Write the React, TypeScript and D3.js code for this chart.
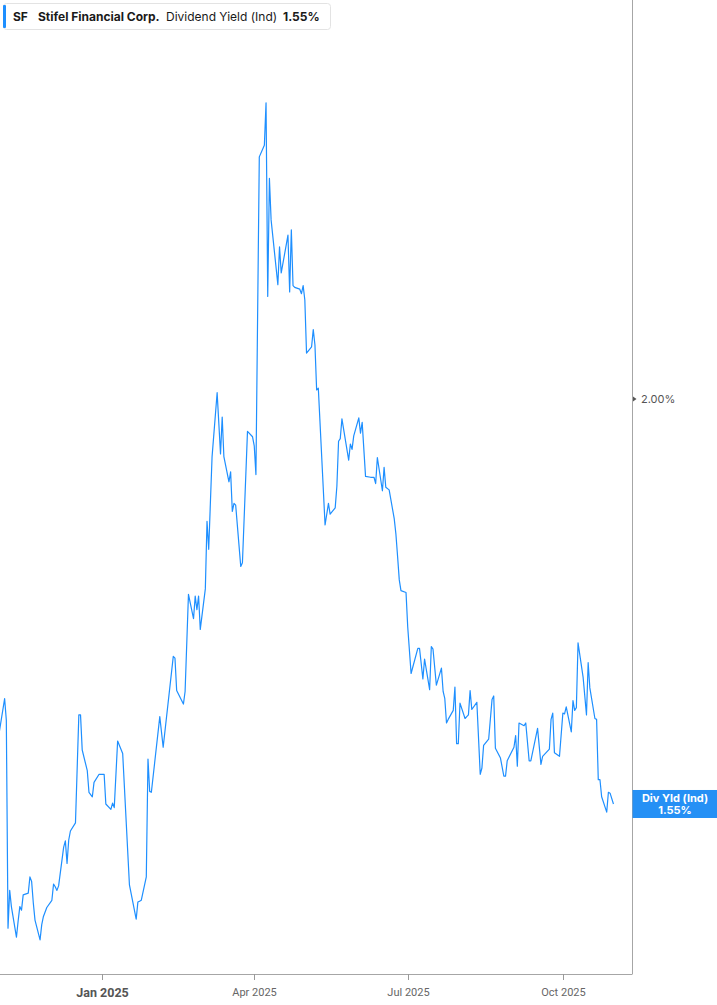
import React from "react";
import * as d3 from "d3";

const dates: string[] = [
  "2024-10-31","2024-11-01","2024-11-04","2024-11-05","2024-11-06","2024-11-07","2024-11-08","2024-11-11","2024-11-12","2024-11-13",
  "2024-11-14","2024-11-15","2024-11-18","2024-11-19","2024-11-20","2024-11-21","2024-11-22","2024-11-25","2024-11-26","2024-11-27",
  "2024-11-29","2024-12-02","2024-12-03","2024-12-04","2024-12-05","2024-12-06","2024-12-09","2024-12-10","2024-12-11","2024-12-12",
  "2024-12-13","2024-12-16","2024-12-18","2024-12-19","2024-12-20","2024-12-23","2024-12-24","2024-12-26","2024-12-27","2024-12-30",
  "2024-12-31","2025-01-02","2025-01-03","2025-01-06","2025-01-07","2025-01-08","2025-01-10","2025-01-13","2025-01-17","2025-01-21",
  "2025-01-22","2025-01-23","2025-01-24","2025-01-27","2025-01-28","2025-01-29","2025-01-30","2025-02-04","2025-02-05","2025-02-06",
  "2025-02-12","2025-02-13","2025-02-14","2025-02-18","2025-02-19","2025-02-21","2025-02-24","2025-02-25","2025-02-26","2025-02-27",
  "2025-02-28","2025-03-03","2025-03-04","2025-03-05","2025-03-07","2025-03-10","2025-03-12","2025-03-13","2025-03-14","2025-03-17",
  "2025-03-18","2025-03-19","2025-03-20","2025-03-21","2025-03-24","2025-03-25","2025-03-28","2025-03-31","2025-04-01","2025-04-02",
  "2025-04-04","2025-04-07","2025-04-08","2025-04-09","2025-04-10","2025-04-11","2025-04-15","2025-04-16","2025-04-17","2025-04-21",
  "2025-04-22","2025-04-23","2025-04-24","2025-04-25","2025-04-28","2025-04-29","2025-04-30","2025-05-01","2025-05-02","2025-05-05",
  "2025-05-06","2025-05-07","2025-05-08","2025-05-09","2025-05-13","2025-05-15","2025-05-16","2025-05-19","2025-05-20","2025-05-21",
  "2025-05-22","2025-05-23","2025-05-27","2025-05-28","2025-05-29","2025-05-30","2025-06-02","2025-06-03","2025-06-04","2025-06-06",
  "2025-06-09","2025-06-10","2025-06-11","2025-06-12","2025-06-13","2025-06-16","2025-06-17","2025-06-18","2025-06-20","2025-06-23",
  "2025-06-24","2025-06-25","2025-06-26","2025-06-27","2025-06-30","2025-07-01","2025-07-03","2025-07-07","2025-07-08","2025-07-10",
  "2025-07-11","2025-07-14","2025-07-15","2025-07-16","2025-07-18","2025-07-21","2025-07-22","2025-07-23","2025-07-24","2025-07-25",
  "2025-07-28","2025-07-29","2025-07-30","2025-07-31","2025-08-01","2025-08-04","2025-08-05","2025-08-06","2025-08-07","2025-08-08",
  "2025-08-11","2025-08-13","2025-08-14","2025-08-15","2025-08-18","2025-08-20","2025-08-21","2025-08-22","2025-08-25","2025-08-27",
  "2025-08-28","2025-08-29","2025-09-02","2025-09-03","2025-09-04","2025-09-05","2025-09-08","2025-09-09","2025-09-11","2025-09-12",
  "2025-09-16","2025-09-18","2025-09-19","2025-09-23","2025-09-24","2025-09-25","2025-09-26","2025-09-29","2025-10-01","2025-10-02",
  "2025-10-03","2025-10-06","2025-10-07","2025-10-08","2025-10-09","2025-10-10","2025-10-13","2025-10-15","2025-10-16","2025-10-17",
  "2025-10-20","2025-10-21","2025-10-22","2025-10-23","2025-10-24","2025-10-27","2025-10-28","2025-10-29","2025-10-31",
];

const yields: number[] = [
  1.615,1.632,1.667,1.643,1.412,1.454,1.436,1.402,1.420,1.436,
  1.432,1.449,1.451,1.469,1.464,1.440,1.421,1.399,1.416,1.425,
  1.435,1.443,1.461,1.458,1.454,1.459,1.502,1.509,1.484,1.510,
  1.520,1.529,1.649,1.649,1.610,1.587,1.563,1.558,1.574,1.583,
  1.583,1.583,1.550,1.544,1.551,1.546,1.620,1.606,1.460,1.422,
  1.441,1.442,1.443,1.469,1.600,1.564,1.563,1.647,1.630,1.613,
  1.714,1.712,1.676,1.661,1.675,1.783,1.756,1.781,1.766,1.781,
  1.744,1.789,1.864,1.833,1.936,2.007,1.939,1.980,1.936,1.908,
  1.919,1.875,1.884,1.882,1.814,1.818,1.964,1.958,1.948,1.916,
  2.269,2.282,2.329,2.114,2.245,2.199,2.127,2.169,2.140,2.182,
  2.119,2.188,2.126,2.124,2.122,2.117,2.126,2.110,2.051,2.058,
  2.077,2.060,2.010,2.012,1.860,1.884,1.872,1.879,1.903,1.953,
  1.956,1.978,1.932,1.950,1.944,1.959,1.979,1.962,1.974,1.914,
  1.913,1.913,1.913,1.906,1.935,1.898,1.924,1.902,1.899,1.867,
  1.850,1.825,1.799,1.787,1.785,1.747,1.695,1.723,1.723,1.689,
  1.711,1.677,1.725,1.722,1.682,1.701,1.675,1.667,1.640,1.644,
  1.654,1.680,1.617,1.617,1.662,1.645,1.647,1.649,1.676,1.655,
  1.663,1.583,1.590,1.615,1.622,1.666,1.670,1.612,1.601,1.581,
  1.581,1.598,1.613,1.626,1.592,1.640,1.637,1.640,1.598,1.598,
  1.634,1.594,1.603,1.611,1.644,1.651,1.607,1.603,1.651,1.650,
  1.658,1.630,1.665,1.654,1.657,1.729,1.691,1.649,1.707,1.679,
  1.645,1.644,1.577,1.577,1.558,1.541,1.563,1.562,1.550,
];

const xTickDates: string[] = ["2025-01-01", "2025-04-01", "2025-07-01", "2025-10-01"];
const xTickLabels: string[] = ["Jan 2025", "Apr 2025", "Jul 2025", "Oct 2025"];
const yTicks: number[] = [2.0];
const xDomain: string[] = ["2024-11-01T06:00", "2025-11-11T07:00"];
const yDomain: number[] = [1.3611, 2.4433];

const legendTicker = "SF";
const legendName = "Stifel Financial Corp.";
const legendMetric = "Dividend Yield (Ind)";
const lastLabelTitle = "Div Yld (Ind)";

const W = 717;
const H = 1005;
const plotRight = 632.5;
const plotBottom = 974;
const BLUE = "#1e8fff";
const FONT = "Inter, Roboto, 'Noto Sans', sans-serif";
const AXFONT = "Roboto, 'Noto Sans', sans-serif";

export default function App() {
  const parse = d3.timeParse("%Y-%m-%d");
  const parseT = d3.timeParse("%Y-%m-%dT%H:%M");
  const data = dates.map((d, i) => ({ date: parse(d) as Date, v: yields[i] }));
  const x = d3
    .scaleTime()
    .domain([parseT(xDomain[0]) as Date, parseT(xDomain[1]) as Date])
    .range([0, plotRight]);
  const y = d3.scaleLinear().domain(yDomain).range([plotBottom, 0]);
  const line = d3
    .line<{ date: Date; v: number }>()
    .x((d) => x(d.date))
    .y((d) => y(d.v));
  const last = data[data.length - 1];
  const fmt = (v: number) => v.toFixed(2) + "%";

  return (
    <svg
      width={W}
      height={H}
      style={{ position: "absolute", left: 0, top: 0, background: "#fff" }}
    >
      <defs>
        <clipPath id="plotclip">
          <rect x={0} y={0} width={plotRight} height={plotBottom} />
        </clipPath>
      </defs>
      <path
        d={line(data) || ""}
        fill="none"
        stroke={BLUE}
        strokeWidth={1.2}
        strokeLinejoin="round"
        clipPath="url(#plotclip)"
      />
      {/* axes frame */}
      <line x1={plotRight} x2={plotRight} y1={0} y2={plotBottom} stroke="#a6a6a6" strokeWidth={1} />
      <line x1={0} x2={plotRight} y1={plotBottom + 0.5} y2={plotBottom + 0.5} stroke="#a6a6a6" strokeWidth={1} />
      {xTickDates.map((d, i) => {
        const px = Math.round(x(parse(d) as Date)) + 0.5;
        return (
          <g key={d}>
            <line x1={px} x2={px} y1={plotBottom} y2={plotBottom + 6} stroke="#999" strokeWidth={1} />
            <text
              x={px}
              y={i === 0 ? 997 : 996}
              textAnchor="middle"
              fontFamily={AXFONT}
              fontSize={i === 0 ? 12.5 : 11}
              fontWeight={i === 0 ? 700 : 400}
              fill={i === 0 ? "#555" : "#666"}
            >
              {xTickLabels[i]}
            </text>
          </g>
        );
      })}
      {yTicks.map((t) => {
        const py = y(t);
        return (
          <g key={t}>
            <path d={`M${plotRight + 0.5},${py - 2.5} L${plotRight + 4},${py} L${plotRight + 0.5},${py + 2.5} Z`} fill="#555" />
            <text x={641} y={py + 4} fontFamily={FONT} fontSize={11} fill="#555">
              {fmt(t)}
            </text>
          </g>
        );
      })}
      {/* last value label */}
      <g>
        <rect x={plotRight} y={y(last.v) - 14} width={W - plotRight} height={28} fill="#2590f5" />
        <text x={675} y={y(last.v) - 2} textAnchor="middle" fontFamily={FONT} fontSize={11} fontWeight={700} fill="#fff">
          {lastLabelTitle}
        </text>
        <text x={675} y={y(last.v) + 10} textAnchor="middle" fontFamily={FONT} fontSize={11} fontWeight={700} fill="#fff">
          {fmt(last.v)}
        </text>
      </g>
      {/* legend */}
      <g>
        <rect x={3.5} y={3.5} width={327} height={26} rx={3} fill="#fff" stroke="#e3e3e3" />
        <rect x={3} y={5} width={3} height={23} rx={1} fill={BLUE} />
        <text y={21} fontFamily={FONT} fontSize={12} fill="#1a1a1a">
          <tspan x={13} fontWeight={700}>{legendTicker}</tspan>
          <tspan x={38} fontWeight={700}>{legendName}</tspan>
          <tspan x={166} fontWeight={400}>{legendMetric}</tspan>
          <tspan x={283} fontWeight={700}>{fmt(last.v)}</tspan>
        </text>
      </g>
    </svg>
  );
}
